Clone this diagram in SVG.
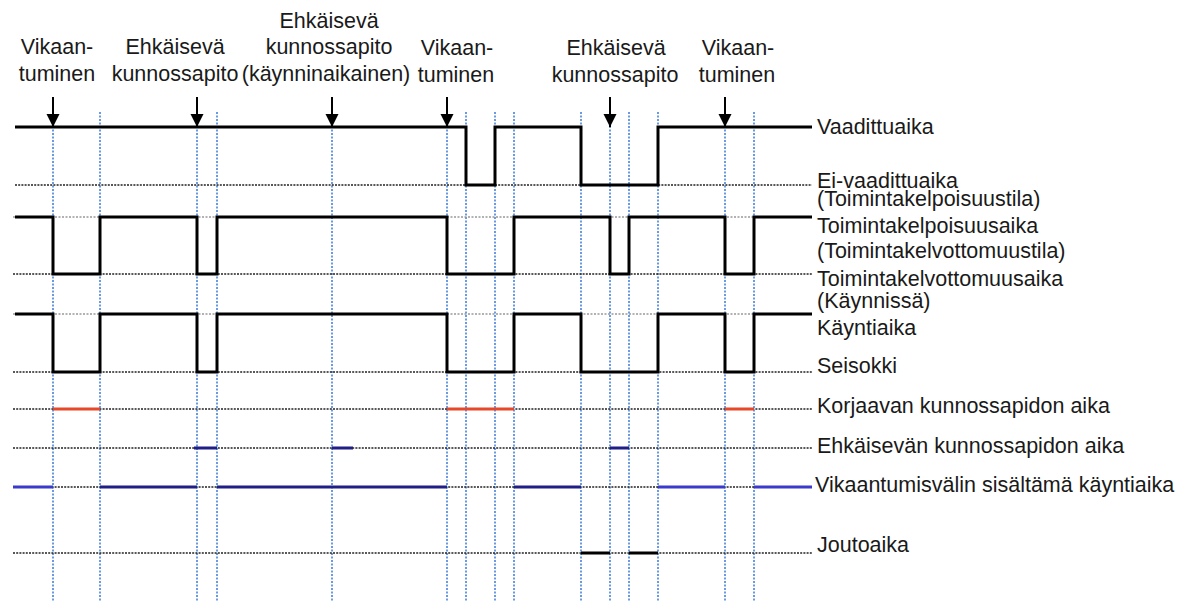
<svg xmlns="http://www.w3.org/2000/svg" width="1195" height="601" viewBox="0 0 1195 601">
<style>
text{font-family:"Liberation Sans",Arial,sans-serif;font-size:21.5px;fill:#1a1a1a}
.top{text-anchor:middle}
.guide{stroke:#3b7ad6;stroke-width:1.5;stroke-dasharray:2 1.5;fill:none}
.dot{stroke:#222;stroke-width:1.6;stroke-dasharray:2 1.2;fill:none}
.dotg{stroke:#999;stroke-width:1.4;stroke-dasharray:2 1.5;fill:none}
.sig{stroke:#000;stroke-width:3;fill:none;stroke-linejoin:miter}
.red{stroke:#e8482a;stroke-width:3}
.navy{stroke:#1f1f85;stroke-width:3}
.blue{stroke:#3a3acc;stroke-width:3}
.blk{stroke:#000;stroke-width:3}
.arr{stroke:#000;stroke-width:2;marker-end:url(#ah)}
</style>
<defs>
<marker id="ah" markerUnits="userSpaceOnUse" markerWidth="14" markerHeight="14" refX="13" refY="7" orient="auto">
<path d="M0,0.5 L13,7 L0,13.5 z" fill="#000"/>
</marker>
</defs>
<rect width="1195" height="601" fill="#fff"/>

<g id="guides">
<path class="guide" d="M53,112V601M100,112V601M197,112V601M217,112V601M332,112V601M447,112V601M466,112V601M495,112V601M514,112V601M581,112V601M610,112V601M629,112V601M658,112V601M725,112V601M754,112V601"/>
</g>

<g id="row-vaadittuaika">
<path class="dot" d="M15,185H812"/>
<path class="sig" d="M15,127H466V185H495V127H581V185H658V127H812"/>
<text x="817" y="134">Vaadittuaika</text>
<text x="817" y="188">Ei-vaadittuaika</text>
</g>

<g id="row-toimintakelpoisuus">
<path class="dotg" d="M13,217H812"/>
<path class="dot" d="M13,274H812"/>
<path class="sig" d="M15,217H53V274H100V217H197V274H217V217H447V274H514V217H610V274H629V217H725V274H754V217H812"/>
<text x="817" y="206">(Toimintakelpoisuustila)</text>
<text x="817" y="233">Toimintakelpoisuusaika</text>
<text x="817" y="258">(Toimintakelvottomuustila)</text>
<text x="817" y="286">Toimintakelvottomuusaika</text>
</g>

<g id="row-kayntiaika">
<path class="dotg" d="M13,314H812"/>
<path class="dot" d="M13,372H812"/>
<path class="sig" d="M15,314H53V372H100V314H197V372H217V314H447V372H514V314H581V372H658V314H725V372H754V314H812"/>
<text x="817" y="308">(Käynnissä)</text>
<text x="817" y="335">Käyntiaika</text>
<text x="817" y="373">Seisokki</text>
</g>

<g id="row-korjaava">
<path class="dot" d="M13,409H812"/>
<path class="red" d="M53,409H100M447,409H514M725,409H754"/>
<text x="817" y="413">Korjaavan kunnossapidon aika</text>
</g>

<g id="row-ehkaiseva">
<path class="dot" d="M13,448H812"/>
<path class="navy" d="M194,448H217M332,448H353M610,448H629"/>
<text x="817" y="453">Ehkäisevän kunnossapidon aika</text>
</g>

<g id="row-vikaantumisvali">
<path class="dot" d="M13,487H812"/>
<path class="blue" d="M13,487H53M658,487H725M754,487H812"/>
<path class="navy" d="M100,487H197M217,487H447M514,487H581"/>
<text x="815" y="492">Vikaantumisvälin sisältämä käyntiaika</text>
</g>

<g id="row-joutoaika">
<path class="dot" d="M13,553H812"/>
<path class="blk" d="M581,553H610M629,553H658"/>
<text x="817" y="552">Joutoaika</text>
</g>

<g id="event-1">
<text class="top" x="57" y="54">Vikaan-</text>
<text class="top" x="57" y="81">tuminen</text>
</g>
<g id="event-2">
<text class="top" x="175" y="54">Ehkäisevä</text>
<text class="top" x="175" y="81">kunnossapito</text>
</g>
<g id="event-3">
<text class="top" x="329" y="28">Ehkäisevä</text>
<text class="top" x="329" y="54">kunnossapito</text>
<text class="top" x="326" y="81">(käynninaikainen)</text>
</g>
<g id="event-4">
<text class="top" x="457" y="55">Vikaan-</text>
<text class="top" x="456" y="82">tuminen</text>
</g>
<g id="event-5">
<text class="top" x="616" y="55">Ehkäisevä</text>
<text class="top" x="615" y="82">kunnossapito</text>
</g>
<g id="event-6">
<text class="top" x="738" y="55">Vikaan-</text>
<text class="top" x="737" y="82">tuminen</text>
</g>

<g id="connectors">
<line class="arr" x1="53" y1="97" x2="53" y2="127"/>
<line class="arr" x1="197" y1="97" x2="197" y2="127"/>
<line class="arr" x1="332" y1="97" x2="332" y2="127"/>
<line class="arr" x1="447" y1="97" x2="447" y2="127"/>
<line class="arr" x1="610" y1="97" x2="610" y2="127"/>
<line class="arr" x1="725" y1="97" x2="725" y2="127"/>
</g>
</svg>
